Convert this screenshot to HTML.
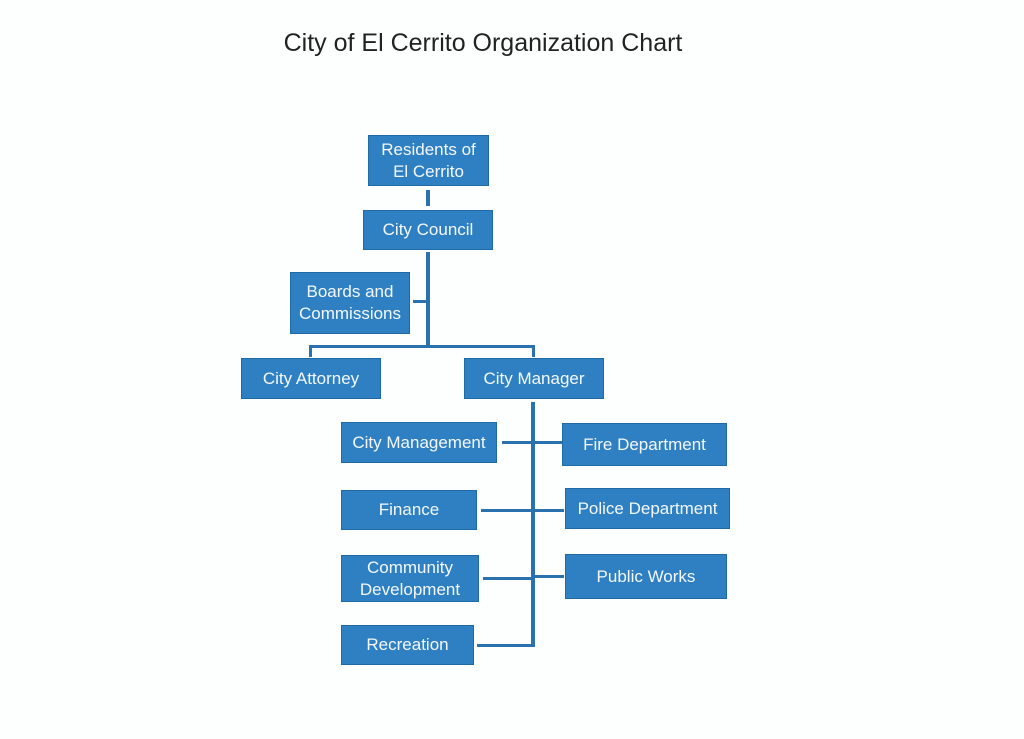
<!DOCTYPE html>
<html><head><style>
body{margin:0;width:1024px;height:739px;background:#fdfefe;position:relative;overflow:hidden;font-family:"Liberation Sans",sans-serif;}
.t{position:absolute;left:0;width:966px;top:29px;text-align:center;font-size:25px;color:#222;}
.b{position:absolute;background:#2f80c2;border:1px solid #1f6aa5;box-sizing:border-box;color:#f4f8fc;font-size:17px;display:flex;align-items:center;justify-content:center;text-align:center;line-height:22px;white-space:nowrap;}
.l{position:absolute;background:#2a72ad;}
</style></head><body>
<div class="t">City of El Cerrito Organization Chart</div>
<div class="l" style="left:426px;top:190px;width:4px;height:16px"></div>
<div class="l" style="left:426px;top:252px;width:4px;height:96px"></div>
<div class="l" style="left:413px;top:300px;width:15px;height:3px"></div>
<div class="l" style="left:309px;top:345px;width:226px;height:3px"></div>
<div class="l" style="left:309px;top:345px;width:3px;height:12px"></div>
<div class="l" style="left:532px;top:345px;width:3px;height:12px"></div>
<div class="l" style="left:531px;top:402px;width:4px;height:245px"></div>
<div class="l" style="left:502px;top:441px;width:60px;height:3px"></div>
<div class="l" style="left:481px;top:509px;width:83px;height:3px"></div>
<div class="l" style="left:483px;top:577px;width:50px;height:3px"></div>
<div class="l" style="left:533px;top:575px;width:31px;height:3px"></div>
<div class="l" style="left:477px;top:644px;width:58px;height:3px"></div>
<div class="b" style="left:368px;top:135px;width:121px;height:51px">Residents of<br>El Cerrito</div>
<div class="b" style="left:363px;top:210px;width:130px;height:40px">City Council</div>
<div class="b" style="left:290px;top:272px;width:120px;height:62px">Boards and<br>Commissions</div>
<div class="b" style="left:241px;top:358px;width:140px;height:41px">City Attorney</div>
<div class="b" style="left:464px;top:358px;width:140px;height:41px">City Manager</div>
<div class="b" style="left:341px;top:422px;width:156px;height:41px">City Management</div>
<div class="b" style="left:562px;top:423px;width:165px;height:43px">Fire Department</div>
<div class="b" style="left:341px;top:490px;width:136px;height:40px">Finance</div>
<div class="b" style="left:565px;top:488px;width:165px;height:41px">Police Department</div>
<div class="b" style="left:341px;top:555px;width:138px;height:47px">Community<br>Development</div>
<div class="b" style="left:565px;top:554px;width:162px;height:45px">Public Works</div>
<div class="b" style="left:341px;top:625px;width:133px;height:40px">Recreation</div>
</body></html>
